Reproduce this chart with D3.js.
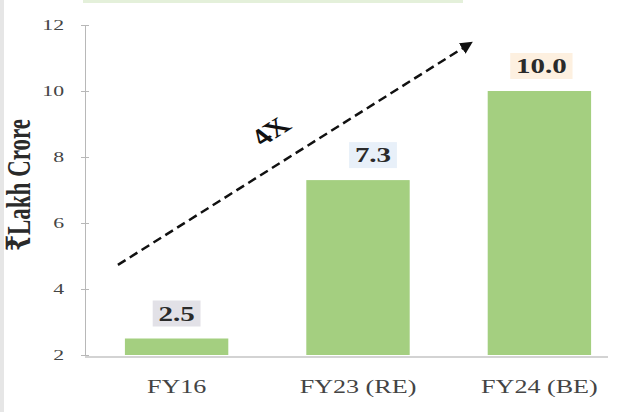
<!DOCTYPE html>
<html lang="en">
<head>
<meta charset="utf-8">
<title>Lakh Crore by year</title>
<script src="https://cdn.jsdelivr.net/npm/d3@7/dist/d3.min.js"></script>
<style>
  body { margin: 0; background: #fff; }
  svg { display: block; }
  .axis path, .axis line { stroke: #b8b8b8; }
  .axis text { font-family: "Liberation Serif", "Times New Roman", serif; fill: #444; }
</style>
</head>
<body>
<div id="chart"></div>
<script>
// values in lakh crore
var years = ["FY16", "FY23 (RE)", "FY24 (BE)"];
var amounts = [2.5, 7.3, 10.0];
var labelFills = ["#e2e1e7", "#e8f0f9", "#fdf0e0"];
var yTicks = [2, 4, 6, 8, 10, 12];
var growthText = "4X";
var yTitle = "\u20B9Lakh Crore";

var W = 619, H = 412;
var margin = {top: 25, left: 85};
var height = 330;
var sx = 1.45; // text in this chart is drawn wide

var svg = d3.select("#chart").append("svg")
  .attr("width", W).attr("height", H);

// thin grey edge on the left and the clipped green header strip
svg.append("rect").attr("x", 0).attr("y", 0).attr("width", 4).attr("height", H).attr("fill", "#e6e6e6");
svg.append("rect").attr("x", 83).attr("y", -10).attr("width", 380).attr("height", 13).attr("fill", "#e4f0da");

var x = d3.scaleBand()
  .domain(years)
  .range([margin.left, 631])
  .paddingInner(0.43)
  .paddingOuter(0.22);

var y = d3.scaleLinear()
  .domain([2, 12])
  .range([margin.top + height, margin.top]);

// y axis
var yAxis = svg.append("g")
  .attr("class", "axis")
  .attr("transform", "translate(" + margin.left + ",0)")
  .call(d3.axisLeft(y).tickValues(yTicks).tickSizeInner(4).tickSizeOuter(0));
yAxis.selectAll(".tick line").attr("x1", 4);
yAxis.selectAll(".tick text")
  .attr("font-size", 15)
  .attr("x", -21 / sx)
  .attr("transform", "scale(" + sx + ",1)");

// x axis line + labels
svg.append("line")
  .attr("x1", margin.left).attr("x2", 608)
  .attr("y1", y(2) + 2).attr("y2", y(2) + 2)
  .attr("stroke", "#c4c4c4").attr("stroke-width", 1.5);

svg.selectAll(".xlab")
  .data(years).enter()
  .append("text")
  .attr("class", "xlab")
  .attr("transform", function(d) {
    return "translate(" + (x(d) + x.bandwidth() / 2) + "," + (y(2) + 38) + ") scale(" + sx + ",1)";
  })
  .attr("text-anchor", "middle")
  .attr("font-family", "Liberation Serif, serif")
  .attr("font-size", 18)
  .attr("fill", "#444")
  .text(function(d) { return d; });

// bars
svg.selectAll(".bar")
  .data(years).enter()
  .append("rect")
  .attr("class", "bar")
  .attr("x", function(d) { return x(d); })
  .attr("width", x.bandwidth())
  .attr("y", function(d, i) { return y(amounts[i]); })
  .attr("height", function(d, i) { return y(2) - y(amounts[i]); })
  .attr("fill", "#a4cf80");

// value labels in small tinted boxes
var nudge = [0, 15, 2];
var lab = svg.selectAll(".val")
  .data(years).enter()
  .append("g")
  .attr("class", "val")
  .attr("transform", function(d, i) {
    return "translate(" + (x(d) + x.bandwidth() / 2 + nudge[i]) + "," + (y(amounts[i]) - 25) + ") scale(" + sx + ",1)";
  });
lab.each(function(d, i) {
  var g = d3.select(this);
  var r = g.append("rect");
  var t = g.append("text")
    .attr("text-anchor", "middle")
    .attr("dy", "0.35em")
    .attr("font-family", "Liberation Serif, serif")
    .attr("font-weight", "bold")
    .attr("font-size", 20)
    .attr("fill", "#2a2a2a")
    .text(d3.format(".1f")(amounts[i]));
  var b = t.node().getBBox();
  r.attr("x", b.x - 4).attr("y", -13)
    .attr("width", b.width + 8).attr("height", 26)
    .attr("fill", labelFills[i]);
});

// y title
svg.append("text")
  .attr("transform", "translate(30," + (margin.top + 160) + ") scale(" + sx + ",1) rotate(-90)")
  .attr("text-anchor", "middle")
  .attr("font-family", "Liberation Serif, DejaVu Serif, serif")
  .attr("font-weight", "bold")
  .attr("font-size", 23)
  .attr("fill", "#2a2a2a")
  .text(yTitle);

// dashed growth arrow
svg.append("defs").append("marker")
  .attr("id", "head")
  .attr("viewBox", "0 0 10 10")
  .attr("refX", 8).attr("refY", 5)
  .attr("markerWidth", 5).attr("markerHeight", 5)
  .attr("orient", "auto")
  .append("path").attr("d", "M0,0 L10,5 L0,10 z").attr("fill", "#111");

var ax0 = x(years[0]) - 7, ay0 = y(4.73);
var ax1 = x(years[2]) - 17, ay1 = y(11.45);
svg.append("line")
  .attr("x1", ax0).attr("y1", ay0)
  .attr("x2", ax1).attr("y2", ay1)
  .attr("stroke", "#111")
  .attr("stroke-width", 2.5)
  .attr("stroke-dasharray", "9,5")
  .attr("marker-end", "url(#head)");

var ang = Math.atan2(ay1 - ay0, (ax1 - ax0) / sx) * 180 / Math.PI;
svg.append("text")
  .attr("transform", "translate(278,137) scale(" + sx + ",1) rotate(" + ang + ")")
  .attr("text-anchor", "middle")
  .attr("font-family", "Liberation Serif, serif")
  .attr("font-weight", "bold")
  .attr("font-size", 23)
  .attr("fill", "#111")
  .text(growthText);
</script>
</body>
</html>
